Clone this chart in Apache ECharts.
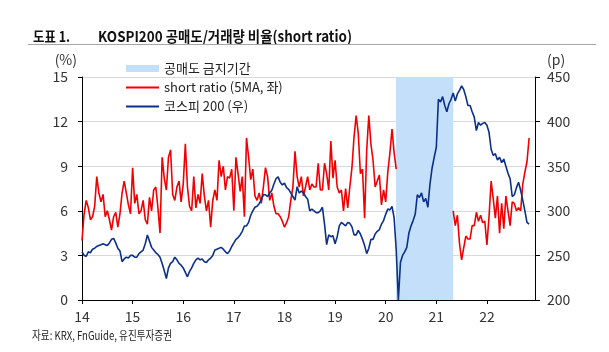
<!DOCTYPE html>
<html><head><meta charset="utf-8">
<script src="https://cdn.jsdelivr.net/npm/echarts@6/dist/echarts.min.js"></script>
<style>html,body{margin:0;padding:0;background:#fff}#c{width:609px;height:352px}</style>
</head><body><div id="c"></div>
<script>
// half-monthly samples starting 2014-01-01
const startYear = 2014;
const stepsPerYear = 24;

// short ratio (5MA, %) — null while short selling was banned
const shortRatio = [
  4.0,5.8,6.7,6.2,5.4,5.6,6.3,8.3,7.2,6.6,7.1,5.6,6.0,5.4,4.7,5.6,5.9,4.9,5.8,7.2,8.0,7.2,6.4,5.8,
  8.9,6.5,7.1,5.8,6.0,6.7,5.4,5.1,6.9,6.0,7.4,7.6,6.2,4.5,9.6,8.2,7.4,9.6,10.1,7.1,6.7,7.6,8.0,6.6,
  7.8,10.5,7.6,6.3,6.0,8.3,6.2,7.1,6.5,8.5,7.0,6.0,6.7,4.9,6.7,7.4,6.7,9.4,8.3,9.0,7.4,8.3,8.2,8.8,
  6.0,9.6,8.5,7.3,8.3,5.6,10.9,9.6,8.1,8.8,7.0,6.7,7.2,6.5,7.6,8.9,8.3,6.7,7.2,6.3,5.8,5.8,5.6,5.3,
  4.9,5.2,5.6,6.7,7.6,10.0,8.3,7.6,8.3,7.0,7.6,8.3,7.4,7.8,7.6,7.6,9.2,7.4,7.4,9.2,8.5,7.4,10.7,8.2,
  9.4,7.6,7.2,7.4,6.0,7.5,6.2,7.6,8.9,11.0,12.4,11.2,8.5,8.8,5.5,10.1,12.4,10.5,9.4,7.6,8.0,8.4,6.4,7.4,
  6.6,8.6,9.9,11.5,9.9,8.8,null,null,null,null,null,null,null,null,null,null,null,null,null,null,null,null,null,null,
  null,null,null,null,null,null,null,null,6.0,5.0,5.7,3.8,2.7,3.5,4.3,4.1,4.1,5.0,5.0,5.9,5.3,5.7,5.2,5.3,
  3.7,5.6,8.0,6.8,5.5,7.0,4.5,6.5,4.8,7.0,6.0,5.0,6.6,6.5,6.0,6.2,6.0,7.8,8.6,9.3,10.9
];

// KOSPI 200 (pt)
const kospi200 = [
  254,250,249,254,253,257,258,260,261,262,263,262,261,264,268,269,264,258,255,243,246,248,247,250,
  250,248,248,252,254,256,263,273,266,259,256,253,251,248,241,233,224,236,241,243,248,245,241,239,
  236,231,226,232,236,241,245,247,245,246,243,242,245,247,250,256,257,258,259,257,254,252,255,260,
  264,268,270,273,277,283,283,287,295,300,304,305,308,312,318,318,316,320,323,330,336,338,332,329,
  331,326,324,320,316,312,327,320,322,320,316,313,300,302,300,298,298,300,304,285,262,273,271,272,
  263,271,283,287,285,283,287,286,282,273,273,278,274,268,261,252,258,268,268,274,277,279,285,289,
  296,302,301,305,292,256,200,242,250,254,259,275,283,289,296,318,315,320,310,314,304,330,348,360,
  371,425,422,428,418,411,420,425,432,423,431,435,440,436,428,418,418,411,405,390,399,396,398,399,
  396,388,369,362,364,357,360,354,358,350,342,336,316,318,326,332,323,312,300,287,285
];

const banStart = '2020-03-16';
const banEnd = '2021-05-03';
const xTickLabels = ['14','15','16','17','18','19','20','21','22'];
const leftTicks = [0,3,6,9,12,15];
const rightTicks = [200,250,300,350,400,450];
const legendNames = ['공매도 금지기간','short ratio (5MA, 좌)','코스피 200 (우)'];
const titleLabel = '도표 1.';
const titleText = 'KOSPI200 공매도/거래량 비율(short ratio)';
const sourceText = '자료: KRX, FnGuide, 유진투자증권';

function toYear(s){
  const d = Date.parse(s + 'T00:00:00Z');
  const y = new Date(d).getUTCFullYear();
  const a = Date.UTC(y,0,1), b = Date.UTC(y+1,0,1);
  return y + (d - a) / (b - a);
}
const xAt = i => startYear + i / stepsPerYear;
const ratioData = shortRatio.map((v,i) => [xAt(i), v == null ? '-' : v]);
const kospiData = kospi200.map((v,i) => [xAt(i), v]);

const FONT = '"Noto Sans CJK KR","Noto Sans",sans-serif';
function fitScale(text, font, target){
  const c = document.createElement('canvas').getContext('2d');
  c.font = font;
  const w = c.measureText(text).width;
  return w > 0 ? target / w : 1;
}

const chart = echarts.init(document.getElementById('c'), null, {renderer:'canvas'});
const gridLine = {show:true, lineStyle:{color:'#d9d9d9', width:1}};
const axisLine = {show:true, lineStyle:{color:'#000', width:1}};
const labelStyle = {color:'#333', fontSize:14, fontFamily:FONT};
const lineIcon = 'path://M0,0H100V6H0Z';

const option = {
  animation:false,
  backgroundColor:'#fff',
  grid:{left:82, right:74, top:77, bottom:52, containLabel:false},
  legend:{
    orient:'vertical', left:126, top:62, padding:0, itemWidth:33, itemHeight:7, itemGap:6,
    textStyle:{fontSize:13, color:'#222', fontFamily:FONT, lineHeight:13},
    data:[
      {name:legendNames[0], icon:'rect'},
      {name:legendNames[1], icon:lineIcon},
      {name:legendNames[2], icon:lineIcon}
    ]
  },
  xAxis:{
    type:'value', min:startYear, max:2022.95, interval:1,
    axisLine:axisLine,
    axisTick:{show:true, length:4, lineStyle:{color:'#000'}},
    splitLine:{show:false},
    axisLabel:Object.assign({}, labelStyle, {margin:10, showMaxLabel:false,
      formatter: v => { const k = Math.round(v) - startYear; return (Math.abs(v - Math.round(v)) < 1e-6 && xTickLabels[k]) ? xTickLabels[k] : ''; }})
  },
  yAxis:[
    {type:'value', min:leftTicks[0], max:leftTicks[leftTicks.length-1], interval:leftTicks[1]-leftTicks[0],
     position:'left', axisLine:axisLine,
     axisTick:{show:true, length:4, lineStyle:{color:'#000'}},
     splitLine:gridLine,
     axisLabel:Object.assign({}, labelStyle, {margin:14})},
    {type:'value', min:rightTicks[0], max:rightTicks[rightTicks.length-1], interval:rightTicks[1]-rightTicks[0],
     position:'right', axisLine:axisLine,
     axisTick:{show:true, length:5, lineStyle:{color:'#000'}},
     splitLine:{show:false},
     axisLabel:Object.assign({}, labelStyle, {margin:12})}
  ],
  series:[
    {name:legendNames[0], type:'line', data:[], z:1, silent:true,
     itemStyle:{color:'#c3dff9'}, lineStyle:{color:'#c3dff9'},
     markArea:{silent:true, itemStyle:{color:'#c3dff9', opacity:1},
       data:[[{xAxis:toYear(banStart)},{xAxis:toYear(banEnd)}]]}},
    {name:legendNames[1], type:'line', data:ratioData, yAxisIndex:0, z:3,
     symbol:'none', showSymbol:false, connectNulls:false,
     itemStyle:{color:'#f00000'}, lineStyle:{color:'#f00000', width:1.6}},
    {name:legendNames[2], type:'line', data:kospiData, yAxisIndex:1, z:4,
     symbol:'none', showSymbol:false,
     itemStyle:{color:'#0b2f8a'}, lineStyle:{color:'#0b2f8a', width:1.6}}
  ],
  graphic:[
    {type:'text', x:33, y:36, scaleX:fitScale(titleLabel, 'bold 15px '+FONT, 37),
     style:{text:titleLabel, fontSize:15, fontWeight:'bold', fontFamily:FONT, fill:'#111', align:'left', verticalAlign:'middle'}},
    {type:'text', x:98, y:36, scaleX:fitScale(titleText, 'bold 15px '+FONT, 254),
     style:{text:titleText, fontSize:15, fontWeight:'bold', fontFamily:FONT, fill:'#111', align:'left', verticalAlign:'middle'}},
    {type:'line', shape:{x1:28, y1:44.5, x2:596, y2:44.5}, style:{stroke:'#a6a6a6', lineWidth:1}},
    {type:'text', x:77, y:60, style:{text:'(%)', fontSize:14, fontFamily:FONT, fill:'#333', align:'right', verticalAlign:'middle'}},
    {type:'text', x:547, y:60, style:{text:'(p)', fontSize:14, fontFamily:FONT, fill:'#333', align:'left', verticalAlign:'middle'}},
    {type:'text', x:32, y:335, scaleX:fitScale(sourceText, '12px '+FONT, 140),
     style:{text:sourceText, fontSize:12, fontFamily:FONT, fill:'#222', align:'left', verticalAlign:'middle'}}
  ]
};
chart.setOption(option);
</script>
</body></html>
